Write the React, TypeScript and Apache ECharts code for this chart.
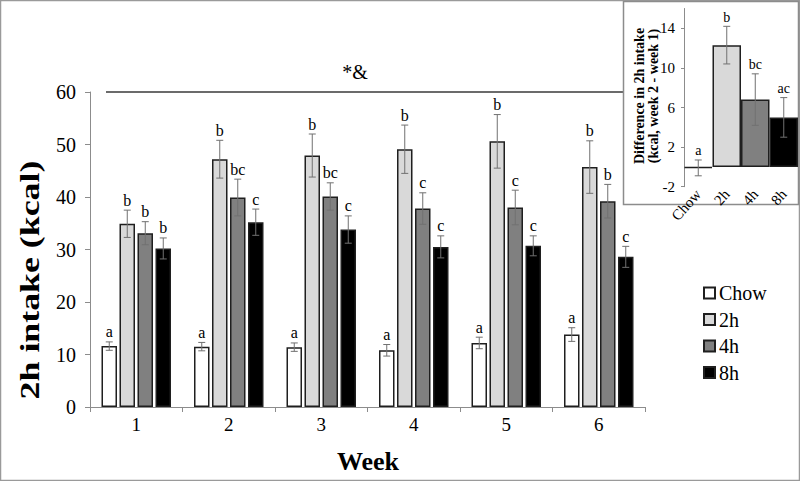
import React, { useEffect, useRef } from 'react';
import * as echarts from 'echarts';

const weeks = ['1', '2', '3', '4', '5', '6'];
const groups = ['Chow', '2h', '4h', '8h'];
const colors = ['#ffffff', '#d9d9d9', '#808080', '#000000'];

const chowMean = [11.6, 11.5, 11.4, 10.8, 12.2, 13.8];
const chowErr = [0.8, 0.8, 0.8, 1.1, 1.1, 1.3];
const h2Mean = [34.9, 47.2, 47.9, 49.1, 50.6, 45.7];
const h2Err = [2.6, 3.6, 4.1, 4.6, 5.1, 5.0];
const h4Mean = [33.1, 39.9, 40.1, 37.8, 38.0, 39.2];
const h4Err = [2.2, 3.5, 2.6, 3.0, 3.3, 3.2];
const h8Mean = [30.2, 35.2, 33.8, 30.5, 30.7, 28.6];
const h8Err = [2.0, 2.5, 2.6, 2.1, 1.9, 2.0];

const chowLetters = ['a', 'a', 'a', 'a', 'a', 'a'];
const h2Letters = ['b', 'b', 'b', 'b', 'b', 'b'];
const h4Letters = ['b', 'bc', 'bc', 'c', 'c', 'b'];
const h8Letters = ['b', 'c', 'c', 'c', 'c', 'c'];

const insetCats = ['Chow', '2h', '4h', '8h'];
const insetMean = [-0.1, 12.3, 6.8, 5.0];
const insetErr = [0.8, 1.9, 2.6, 2.0];
const insetLetters = ['a', 'b', 'bc', 'ac'];

const yTicks = { min: 0, max: 60, interval: 10 };
const insetTicks = { min: -2, max: 16, interval: 4 };

const FONT = "'Liberation Serif', 'Times New Roman', serif";
const BAR_W = 15.5;
const BAR_GAP = 2.5;
const ERR_COLOR = '#707070';
const BORDER = '#1f1f1f';

function errRender(pos: number, n: number, letters: string[], barW: number, gap: number, fontSize: number) {
  return (params: any, api: any) => {
    const xi = api.value(0);
    const v = api.value(1);
    const e = api.value(2);
    const off = (pos - (n - 1) / 2) * (barW + gap);
    const c = api.coord([xi, v]);
    const x = c[0] + off;
    const yTop = api.coord([xi, v + e])[1];
    const yBot = api.coord([xi, v - e])[1];
    const cap = 3.5;
    const st = { stroke: ERR_COLOR, lineWidth: 1 };
    return {
      type: 'group',
      children: [
        { type: 'line', shape: { x1: x, y1: yTop, x2: x, y2: yBot }, style: st },
        { type: 'line', shape: { x1: x - cap, y1: yTop, x2: x + cap, y2: yTop }, style: st },
        { type: 'line', shape: { x1: x - cap, y1: yBot, x2: x + cap, y2: yBot }, style: st },
        {
          type: 'text',
          x,
          y: yTop - 2,
          style: {
            text: letters[params.dataIndex],
            align: 'center',
            verticalAlign: 'bottom',
            fontSize,
            fontFamily: FONT,
            fill: '#000',
          },
        },
      ],
    };
  };
}

export default function App() {
  const ref = useRef<HTMLDivElement>(null);
  useEffect(() => {
    if (!ref.current) return;
    const chart = echarts.init(ref.current, undefined, { renderer: 'svg' });
    const means = [chowMean, h2Mean, h4Mean, h8Mean];
    const errs = [chowErr, h2Err, h4Err, h8Err];
    const letters = [chowLetters, h2Letters, h4Letters, h8Letters];

    const barSeries = groups.map((g, i) => ({
      name: g,
      type: 'bar',
      xAxisIndex: 0,
      yAxisIndex: 0,
      data: means[i],
      barWidth: BAR_W,
      barGap: `${(BAR_GAP / BAR_W) * 100}%`,
      itemStyle: { color: colors[i], borderColor: BORDER, borderWidth: 1.5 },
      z: 2,
    }));
    const errSeries = groups.map((g, i) => ({
      name: 'err-' + g,
      type: 'custom',
      xAxisIndex: 0,
      yAxisIndex: 0,
      data: weeks.map((_, k) => [k, means[i][k], errs[i][k]]),
      encode: { x: 0, y: 1 },
      renderItem: errRender(i, 4, letters[i], BAR_W, BAR_GAP, 16),
      z: 4,
    }));

    const option: any = {
      animation: false,
      backgroundColor: '#ffffff',
      textStyle: { fontFamily: FONT },
      legend: {
        data: groups,
        orient: 'vertical',
        left: 703,
        top: 283,
        padding: 0,
        itemWidth: 11,
        itemHeight: 11,
        itemGap: 6.5,
        icon: 'rect',
        textStyle: { fontSize: 20, fontFamily: FONT, color: '#000', padding: [0, 0, 0, -1] },
      },
      grid: [
        { left: 90, right: 155, top: 92, bottom: 74 },
        { left: 684, right: 2, top: 8.5, bottom: 294.3 },
      ],
      xAxis: [
        {
          type: 'category',
          gridIndex: 0,
          data: weeks,
          axisLine: { lineStyle: { color: '#8c8c8c', width: 1 } },
          axisTick: { show: true, length: 5, lineStyle: { color: '#8c8c8c' } },
          axisLabel: { fontSize: 19, color: '#000', margin: 8, fontFamily: FONT },
        },
        {
          type: 'category',
          gridIndex: 1,
          data: insetCats,
          axisLine: { show: false, onZero: true },
          axisTick: { show: false },
          axisLabel: { fontSize: 15, color: '#000', margin: 5, rotate: 48, fontFamily: FONT },
          z: 5,
        },
      ],
      yAxis: [
        {
          type: 'value',
          gridIndex: 0,
          min: yTicks.min,
          max: yTicks.max,
          interval: yTicks.interval,
          splitLine: { show: false },
          axisLine: { show: true, lineStyle: { color: '#8c8c8c', width: 1 } },
          axisTick: { show: true, length: 5, lineStyle: { color: '#8c8c8c' } },
          axisLabel: { fontSize: 20, color: '#000', margin: 14, fontFamily: FONT },
        },
        {
          type: 'value',
          gridIndex: 1,
          min: insetTicks.min,
          max: insetTicks.max,
          interval: insetTicks.interval,
          splitLine: { show: false },
          axisLine: { show: true, lineStyle: { color: '#8c8c8c', width: 1 } },
          axisTick: { show: true, length: 3, lineStyle: { color: '#8c8c8c' } },
          axisLabel: { fontSize: 15, color: '#000', margin: 9, showMaxLabel: false, fontFamily: FONT },
          z: 5,
        },
      ],
      graphic: [
        {
          type: 'rect',
          z: -10,
          shape: { x: 0.5, y: 0.5, width: 799, height: 480 },
          style: { fill: 'none', stroke: '#9a9a9a', lineWidth: 1.5 },
        },
        {
          type: 'line',
          z: 0,
          shape: { x1: 106, y1: 92, x2: 623, y2: 92 },
          style: { stroke: '#3a3a3a', lineWidth: 1.5 },
        },
        {
          type: 'text',
          x: 355,
          y: 72,
          style: { text: '*&', align: 'center', verticalAlign: 'middle', fontSize: 20, fontFamily: FONT, fill: '#000' },
        },
        {
          type: 'text',
          x: 29,
          y: 280,
          rotation: Math.PI / 2,
          scaleX: 1.28,
          style: {
            text: '2h intake (kcal)',
            align: 'center',
            verticalAlign: 'middle',
            fontSize: 28,
            fontWeight: 'bold',
            fontFamily: FONT,
            fill: '#000',
          },
        },
        {
          type: 'text',
          x: 368,
          y: 461,
          style: {
            text: 'Week',
            align: 'center',
            verticalAlign: 'middle',
            fontSize: 26,
            fontWeight: 'bold',
            fontFamily: FONT,
            fill: '#000',
          },
        },
        {
          type: 'rect',
          z: 1,
          shape: { x: 623.5, y: 1.5, width: 175, height: 203 },
          style: { fill: '#ffffff', stroke: '#8c8c8c', lineWidth: 1.5 },
        },
        {
          type: 'text',
          x: 646,
          y: 96,
          z: 2,
          rotation: Math.PI / 2,
          style: {
            text: 'Difference in 2h intake\n(kcal, week 2 - week 1)',
            align: 'center',
            verticalAlign: 'middle',
            fontSize: 14,
            lineHeight: 14,
            fontWeight: 'bold',
            fontFamily: FONT,
            fill: '#000',
          },
        },
      ],
      series: [
        ...barSeries,
        ...errSeries,
        {
          name: 'inset',
          type: 'bar',
          xAxisIndex: 1,
          yAxisIndex: 1,
          barCategoryGap: '0%',
          data: insetMean.map((v, i) => ({ value: v, itemStyle: { color: colors[i] } })),
          itemStyle: { borderColor: BORDER, borderWidth: 1.5 },
          z: 6,
        },
        {
          name: 'inset-err',
          type: 'custom',
          xAxisIndex: 1,
          yAxisIndex: 1,
          data: insetCats.map((_, k) => [k, insetMean[k], insetErr[k]]),
          encode: { x: 0, y: 1 },
          renderItem: errRender(0, 1, insetLetters, 28, 0, 14),
          z: 7,
        },
      ],
    };
    chart.setOption(option);
    return () => chart.dispose();
  }, []);
  return (
    <div
      ref={ref}
      style={{ position: 'fixed', left: 0, top: 0, width: 800, height: 481, background: '#fff' }}
    />
  );
}
